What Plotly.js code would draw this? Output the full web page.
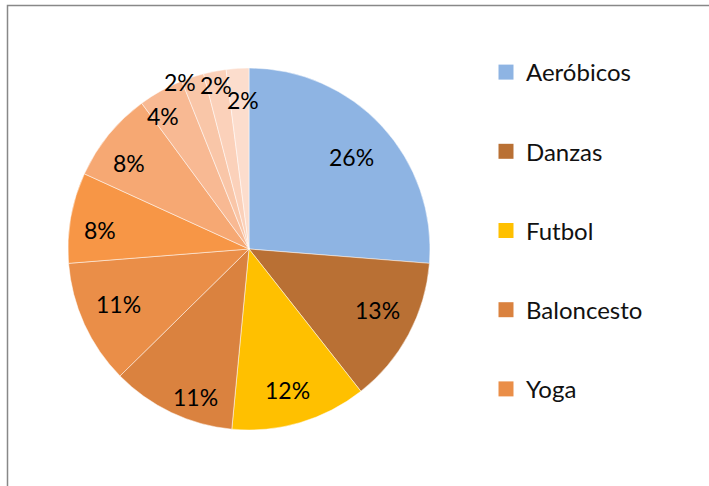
<!DOCTYPE html>
<html>
<head>
<meta charset="utf-8">
<script src="https://cdn.plot.ly/plotly-3.0.1.min.js"></script>
<style>html,body{margin:0;padding:0;background:#fff;}#chart{width:709px;height:486px;}</style>
</head>
<body>
<div id="chart"></div>
<script>
// Data
const categories = ["Aeróbicos","Danzas","Futbol","Baloncesto","Yoga","Natación","Atletismo","Ciclismo","Voleibol","Tenis","Karate"];
const values = [26, 13, 12, 11, 11, 8, 8, 4, 2, 2, 2];
const colors = ["#8EB4E3","#B97034","#FFC000","#DA823F","#EA8E48","#F79646","#F6A873","#F8B993","#F9C6A8","#FBD1BA","#FCDDCD"];
const legendCount = 5; // only the first five appear in the legend

// Layout parameters: pie placement, and each data label's radius fraction / angle nudge (deg)
const cx = 249, cy = 249, r = 181, W = 709, H = 486;
const labelRadius = [0.763, 0.788, 0.808, 0.87, 0.78, 0.83, 0.815, 0.875, 1.0, 0.923, 0.824];
const labelNudge  = [0.9, -2.9, 0.9, -5.5, 1.6, -2.7, -3.5, -3.8, -4.2, -0.5, 1.3];
const FONT = 'Lato, "Open Sans", sans-serif';

const pie = {
  type: 'pie',
  labels: categories,
  values: values,
  sort: false,
  direction: 'clockwise',
  rotation: 0,
  marker: {colors: colors, line: {color: 'rgba(255,255,255,0.7)', width: 0.7}},
  textinfo: 'none',
  hoverinfo: 'label+percent',
  showlegend: false,
  domain: {x: [(cx - r) / W, (cx + r) / W], y: [1 - (cy + r) / H, 1 - (cy - r) / H]}
};

// Percentage labels placed around the mid-angle of each slice (derived from the values)
const total = values.reduce((a, b) => a + b, 0);
let cum = 0;
const annotations = values.map((v, i) => {
  const mid = (cum + v / 2) / total * 2 * Math.PI + labelNudge[i] * Math.PI / 180;
  cum += v;
  const k = labelRadius[i] * r;
  return {
    xref: 'paper', yref: 'paper', showarrow: false,
    x: (cx + k * Math.sin(mid)) / W,
    y: 1 - (cy - k * Math.cos(mid)) / H,
    xanchor: 'center', yanchor: 'middle',
    text: Math.round(v / total * 100) + '%',
    font: {family: FONT, size: 23, color: '#000'}
  };
});

const legendTraces = categories.slice(0, legendCount).map((c, i) => ({
  type: 'scatter', mode: 'markers', x: [null], y: [null], name: c,
  marker: {color: colors[i], symbol: 'square', size: 15},
  legendgroup: 'g' + i, showlegend: true, hoverinfo: 'skip'
}));

const layout = {
  width: W, height: H,
  margin: {l: 0, r: 0, t: 0, b: 0},
  paper_bgcolor: '#fff', plot_bgcolor: 'rgba(0,0,0,0)',
  xaxis: {visible: false}, yaxis: {visible: false},
  font: {family: FONT, color: '#000'},
  legend: {
    x: 486 / W, xanchor: 'left', y: 1 - 50 / H, yanchor: 'top',
    font: {size: 24, color: '#111'},
    tracegroupgap: 45, bgcolor: 'rgba(0,0,0,0)'
  },
  annotations: annotations,
  shapes: [{
    type: 'rect', xref: 'paper', yref: 'paper',
    x0: 7.5 / W, x1: 1.05, y0: -0.05, y1: 1 - 5.5 / H,
    line: {color: '#888', width: 1.5}
  }]
};

Plotly.newPlot('chart', [...legendTraces, pie], layout, {displayModeBar: false, staticPlot: true});
</script>
</body>
</html>
